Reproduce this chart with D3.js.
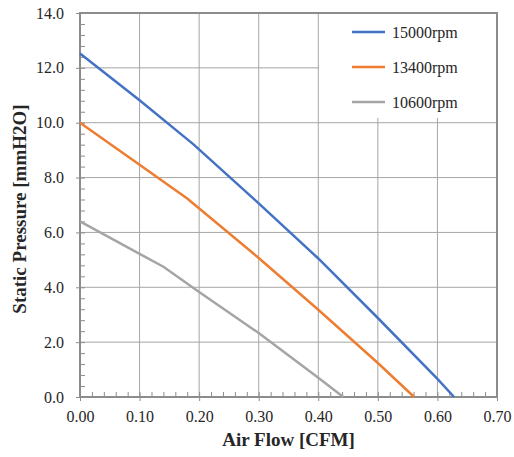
<!DOCTYPE html>
<html>
<head>
<meta charset="utf-8">
<script src="https://cdn.jsdelivr.net/npm/d3@7"></script>
<style>
body { margin: 0; background: #fff; }
svg text { font-family: "Liberation Serif", "Times New Roman", serif; }
</style>
</head>
<body>
<svg id="chart" width="514" height="457"></svg>
<script>
// data
const seriesNames = ["15000rpm", "13400rpm", "10600rpm"];
const seriesColors = ["#4472C4", "#ED7D31", "#A5A5A5"];
const flow15000 = [0, 0.1, 0.19, 0.3, 0.4, 0.5, 0.6, 0.628];
const pres15000 = [12.52, 10.82, 9.22, 7.06, 5.05, 2.88, 0.66, 0];
const flow13400 = [0, 0.1, 0.18, 0.3, 0.4, 0.5, 0.561];
const pres13400 = [10.0, 8.47, 7.24, 5.07, 3.18, 1.24, 0];
const flow10600 = [0, 0.1, 0.14, 0.2, 0.3, 0.4, 0.442];
const pres10600 = [6.40, 5.22, 4.75, 3.83, 2.33, 0.70, 0];
const xTicks = [0, 0.1, 0.2, 0.3, 0.4, 0.5, 0.6, 0.7];
const yTicks = [0, 2, 4, 6, 8, 10, 12, 14];

const series = [
  {name: seriesNames[0], color: seriesColors[0], pts: flow15000.map((f, i) => [f, pres15000[i]])},
  {name: seriesNames[1], color: seriesColors[1], pts: flow13400.map((f, i) => [f, pres13400[i]])},
  {name: seriesNames[2], color: seriesColors[2], pts: flow10600.map((f, i) => [f, pres10600[i]])}
];

const mLeft = 80, mRight = 497, mTop = 13, mBottom = 397;
const svg = d3.select("#chart");

const x = d3.scaleLinear().domain([0, 0.7]).range([mLeft, mRight]);
const y = d3.scaleLinear().domain([0, 14]).range([mBottom, mTop]);

// grid
svg.append("g").selectAll("line").data(yTicks.slice(1, -1)).join("line")
  .attr("x1", mLeft).attr("x2", mRight)
  .attr("y1", d => y(d)).attr("y2", d => y(d))
  .attr("stroke", "#a6a6a6").attr("stroke-width", 1);

// legend background hides the grid behind it
svg.append("rect")
  .attr("x", 319).attr("y", mTop).attr("width", mRight - 319).attr("height", 105)
  .attr("fill", "#fff");

// vertical grid, the 0.40 line stays visible next to the legend
svg.append("g").selectAll("line").data(xTicks.slice(1, -1)).join("line")
  .attr("x1", d => x(d)).attr("x2", d => x(d))
  .attr("y1", d => x(d) > 320 ? mTop + 105 : mTop).attr("y2", mBottom)
  .attr("stroke", "#a6a6a6").attr("stroke-width", 1);

// minor ticks (inside)
const xMinor = d3.range(0, 0.7001, 0.02);
const yMinor = d3.range(0, 14.001, 0.4);
svg.append("g").attr("transform", `translate(0,${mBottom})`)
  .call(d3.axisBottom(x).tickValues(xMinor).tickSize(-5).tickFormat(""))
  .call(g => g.select(".domain").remove())
  .selectAll("line").attr("stroke", "#8c8c8c");
svg.append("g").attr("transform", `translate(${mLeft},0)`)
  .call(d3.axisLeft(y).tickValues(yMinor).tickSize(-5).tickFormat(""))
  .call(g => g.select(".domain").remove())
  .selectAll("line").attr("stroke", "#8c8c8c");

// major axes
const xAxis = svg.append("g").attr("transform", `translate(0,${mBottom})`)
  .call(d3.axisBottom(x).tickValues(xTicks).tickSize(4).tickPadding(10).tickFormat(d3.format(".2f")));
const yAxis = svg.append("g").attr("transform", `translate(${mLeft},0)`)
  .call(d3.axisLeft(y).tickValues(yTicks).tickSize(4).tickPadding(12).tickFormat(d3.format(".1f")));
[xAxis, yAxis].forEach(g => {
  g.select(".domain").remove();
  g.selectAll("line").attr("stroke", "#8c8c8c");
  g.selectAll("text").attr("font-size", 16).attr("fill", "#262626")
    .style("font-family", "'Liberation Serif', serif");
});

// frame
svg.append("rect")
  .attr("x", mLeft).attr("y", mTop).attr("width", mRight - mLeft).attr("height", mBottom - mTop)
  .attr("fill", "none").attr("stroke", "#8c8c8c").attr("stroke-width", 2);

// curves
const line = d3.line().x(d => x(d[0])).y(d => y(d[1]));
svg.append("g").selectAll("path").data(series).join("path")
  .attr("d", d => line(d.pts))
  .attr("fill", "none")
  .attr("stroke", d => d.color)
  .attr("stroke-width", 2.5);

// legend
const legend = svg.append("g").selectAll("g").data(series).join("g")
  .attr("transform", (d, i) => `translate(352,${32 + i * 35})`);
legend.append("line")
  .attr("x1", 0).attr("x2", 33).attr("y1", 0).attr("y2", 0)
  .attr("stroke", d => d.color).attr("stroke-width", 2.5);
legend.append("text")
  .attr("x", 40).attr("y", 0).attr("dy", "0.35em")
  .attr("font-size", 16).attr("fill", "#262626")
  .text(d => d.name);

// axis titles
svg.append("text")
  .attr("x", (mLeft + mRight) / 2).attr("y", 446)
  .attr("text-anchor", "middle")
  .attr("font-size", 19).attr("font-weight", "bold").attr("fill", "#262626")
  .text("Air Flow [CFM]");
svg.append("text")
  .attr("transform", "translate(26,209) rotate(-90)")
  .attr("text-anchor", "middle")
  .attr("font-size", 19).attr("font-weight", "bold").attr("fill", "#262626")
  .text("Static Pressure [mmH2O]");
</script>
</body>
</html>
